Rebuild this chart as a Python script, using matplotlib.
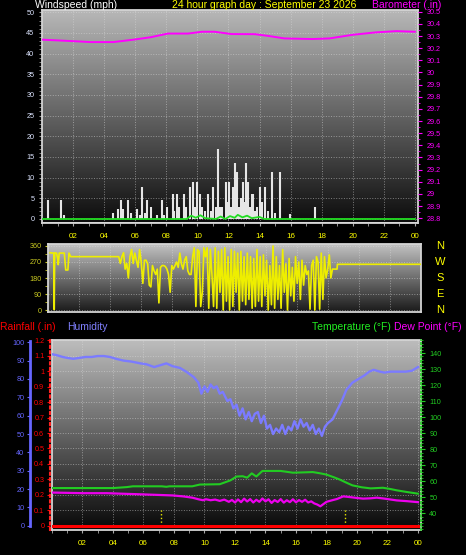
import matplotlib
matplotlib.use('Agg')
import matplotlib.pyplot as plt
import numpy as np
from matplotlib.colors import LinearSegmentedColormap
from matplotlib.ticker import MultipleLocator

plt.rcParams['font.family'] = ['Liberation Sans', 'DejaVu Sans']

W, H = 466, 555

# ---- data ----
hour_ticks = [2, 4, 6, 8, 10, 12, 14, 16, 18, 20, 22, 24]
hour_labels = ['02', '04', '06', '08', '10', '12', '14', '16', '18', '20', '22', '00']

wind_hours = [0.4, 1.2, 1.4, 4.55, 4.9, 5.1, 5.2, 5.55, 5.7, 6.1, 6.3, 6.45, 6.6, 6.75, 7.0, 7.4,
              7.7, 7.85, 8.05, 8.4, 8.5, 8.7, 8.8, 9.15, 9.3, 9.5, 9.7, 9.85, 10.0, 10.15, 10.3,
              10.5, 10.7, 10.9, 11.0, 11.2, 11.3, 11.45, 11.6, 11.85, 12.0, 12.05, 12.15, 12.3,
              12.4, 12.55, 12.7, 12.8, 12.95, 13.05, 13.1, 13.25, 13.4, 13.5, 13.6, 13.7, 13.85,
              14.0, 14.15, 14.35, 14.55, 14.8, 15.0, 15.3, 15.95, 17.55]
wind_speed = [4.5, 4.5, 1.0, 1.5, 2.5, 4.5, 2.5, 4.5, 1.5, 2.5, 1.0, 7.8, 1.5, 4.5, 2.8, 1.0,
              4.5, 1.0, 2.8, 6.0, 2.0, 6.0, 2.8, 6.0, 2.8, 7.8, 9.0, 3.0, 9.0, 6.0, 3.0,
              2.0, 6.0, 2.0, 7.8, 3.0, 17.0, 3.0, 2.8, 9.0, 4.0, 9.0, 3.0, 7.8,
              13.6, 11.4, 3.0, 5.0, 9.0, 4.0, 13.6, 9.0, 3.0, 6.0, 6.0, 2.0, 3.0,
              7.8, 4.0, 7.8, 2.0, 11.4, 1.5, 11.4, 1.3, 2.8]

avg_hours = [0, 9.3, 9.6, 9.9, 10.2, 10.5, 11.2, 11.5, 11.8, 12.1, 12.4, 12.6, 12.9, 13.2, 13.5, 14.0, 14.3, 24]
avg_speed = [0, 0, 0.8, 0.3, 0.9, 0.2, 0, 0.6, 0, 0.7, 0.3, 1.0, 0.4, 0.8, 0.2, 0.5, 0, 0]

baro_hours = [0, 0.8, 1.6, 2.4, 3.1, 4.6, 5.9, 7.0, 8.1, 9.4, 10.3, 11.1, 12.2, 13.7, 14.6,
              15.6, 17.4, 18.5, 20.0, 21.5, 22.8, 24.0]
baro = [30.27, 30.265, 30.26, 30.255, 30.25, 30.25, 30.27, 30.29, 30.32, 30.32, 30.335, 30.335,
        30.316, 30.315, 30.30, 30.28, 30.275, 30.28, 30.31, 30.33, 30.34, 30.335]

dir_start_hours = [0.13, 0.3, 0.38, 0.4, 0.43, 0.55, 0.62, 0.66, 0.72, 0.9, 1.05, 1.14, 1.28, 1.35, 1.46, 4.5]
dir_start = [322, 320, 320, 3, 320, 320, 290, 255, 320, 320, 320, 225, 225, 320, 300, 300]
dir_noisy = [300, 262, 300, 322, 230, 262, 180, 300, 340, 262, 320, 280, 240,
             340, 270, 150, 280, 280, 260, 140, 130, 250, 220,
             200, 230, 40, 240, 250, 250, 245, 230, 200, 100, 250, 230,
             250, 270, 240, 320, 260, 230, 280, 300, 220, 200,
             200, 300, 350, 20, 340, 330, 20, 100, 350, 300,
             350, 10, 340, 200, 20, 350, 10, 330, 100, 340,
             0, 350, 50, 300, 0, 340, 20, 330, 100, 320,
             0, 330, 50, 300, 30, 320, 60, 300, 10, 290,
             20, 340, 50, 300, 20, 310, 80, 280, 0, 250,
             30, 360, 10, 300, 60, 250, 10, 340, 100, 260,
             0, 290, 80, 240, 50, 300, 150, 270, 60, 280,
             140, 250, 200, 220, 5, 250, 280, 0, 300, 270,
             5, 320, 60, 300, 180, 230, 310]
dir_end_hours = [18.2, 18.3, 18.45, 18.6, 18.62, 24.0]
dir_end = [180, 230, 230, 230, 257, 257]

hum_hours = [0.0, 0.3, 0.7, 1.0, 1.4, 1.8, 2.2, 2.6, 3.0, 3.4, 3.8, 4.2, 4.7, 5.2, 5.8, 6.2, 6.7,
             7.1, 7.5, 7.9, 8.4, 8.8, 9.3, 9.6, 9.8, 10.0, 10.2, 10.4, 10.6, 10.8, 11.0, 11.2,
             11.5, 11.7, 11.9, 12.1, 12.3, 12.5, 12.7, 12.9, 13.1, 13.3, 13.5, 13.7, 13.9, 14.1,
             14.3, 14.5, 14.7, 14.9, 15.1, 15.3, 15.5, 15.7, 15.9, 16.1, 16.3, 16.5, 16.7, 16.9,
             17.1, 17.3, 17.5, 17.7, 17.9, 18.1, 18.4, 18.7, 19.0, 19.3, 19.7, 20.1, 20.5, 20.8,
             21.1, 21.5, 21.8, 22.2, 22.7, 23.2, 23.6, 24.0]
humidity = [93.5, 93, 92, 91.5, 91, 91.5, 92, 92, 92.5, 92.5, 92, 91, 90, 89.5, 88.5, 88, 86.5,
            87.5, 88.5, 87, 86, 84, 81, 78, 72, 76, 73, 77, 75, 76, 72, 73,
            68, 69, 64, 66, 60, 64, 58, 62, 57, 61, 62, 56, 60, 53,
            55, 50, 53, 51, 55, 50, 54, 52, 57, 53, 58, 54, 56, 52,
            55, 50, 53, 49, 54, 56, 58, 63, 68, 74, 78, 80, 82, 84,
            85, 84, 83.5, 84, 84, 84, 84.5, 86.5]

temp_hours = [0, 2, 4, 4.9, 5.3, 7.2, 7.5, 7.7, 9.2, 9.7, 11.0, 11.7, 12.1, 12.5, 12.8, 13.1,
              13.4, 13.8, 14.5, 15.0, 15.8, 16.5, 17.1, 17.6, 18.0, 18.5, 18.9, 19.3, 19.7,
              20.3, 20.9, 21.7, 22.2, 22.6, 23.3, 24.0]
temperature = [55.8, 55.8, 55.8, 56.4, 56.9, 56.9, 56.6, 56.9, 56.9, 58, 58.2, 60.6, 63, 63.2,
               62.3, 65, 63, 66.5, 66.5, 66.5, 65.4, 65.6, 65.8, 65, 64.2, 62.5, 61, 59.2, 57.5,
               56.3, 55.6, 56, 55.2, 54.4, 53.3, 52.3]

dew_hours = [0, 1, 2, 3.6, 4.5, 5.8, 7, 7.9, 8.6, 9.2, 9.6, 9.9, 10.1, 10.4, 10.7, 11.0, 11.3,
             11.6, 11.8, 12.0, 12.2, 12.4, 12.6, 12.8, 13.0, 13.2, 13.4, 13.6, 13.8, 14.0, 14.2,
             14.4, 14.6, 14.8, 15.0, 15.2, 15.4, 15.6, 15.8, 16.0, 16.2, 16.4, 16.6, 16.8, 17.0,
             17.2, 17.4, 17.6, 17.8, 18.0, 18.3, 18.7, 19.1, 19.5, 20.0, 20.4, 20.9, 21.3, 21.8,
             22.6, 23.3, 24.0]
dew_point = [53, 52.8, 52.6, 52.6, 52.3, 51.9, 51.5, 51.2, 50.6, 49.8, 48.8, 48.2, 48.8, 48.2,
             48.6, 47.8, 48.6, 47.2, 48.4, 46.8, 48.7, 47.0, 49.2, 47.4, 48.9, 46.8, 48.5, 47.2,
             49.3, 47.5, 48.8, 46.5, 48.3, 47.1, 48.9, 46.7, 48.2, 47.0, 48.8, 46.9, 48.3, 47.2,
             48.5, 46.8, 47.5, 46.2, 45.5, 44.4, 45.8, 47.2, 48.0, 49.0, 50.6, 50.2, 49.6, 49.2,
             49.4, 49.8, 49.2, 48.1, 47.6, 47.0]

rain_hours = [0, 24]
rainfall = [0, 0]

sun_events = [7.18, 19.24]

# ---- helpers ----
def box(left, top, right, bottom):
    return [left / W, 1 - bottom / H, (right - left) / W, (bottom - top) / H]


def shade(ax, top, bottom):
    cmap = LinearSegmentedColormap.from_list('g', [bottom, top])
    ax.imshow(np.linspace(0, 1, 256).reshape(-1, 1), extent=[0, 1, 0, 1], origin='lower',
              transform=ax.transAxes, aspect='auto', cmap=cmap, zorder=0)


def frame(ax):
    for s in ax.spines.values():
        s.set_color('#d4d4d4')
        s.set_linewidth(1.3)


fig = plt.figure(figsize=(W / 100, H / 100), dpi=100, facecolor='black')
grid_kw = dict(color='#dddddd', linestyle=':', linewidth=0.7, alpha=0.5)
tick_fs = 5.2

# ---- top panel: wind speed + barometer ----
ax1 = fig.add_axes(box(42, 10, 418, 222.5))
shade(ax1, '#b8b8b8', '#0d0d0d')
ax1.vlines(wind_hours, 0, wind_speed, color='#e6e6e6', linewidth=1.5, zorder=3)
ax1.plot(avg_hours, avg_speed, color='#22dd22', linewidth=1.3, zorder=4)
ax1.set_xlim(0, 24.2)
ax1.set_ylim(-0.85, 50.55)
ax1.set_xticks(hour_ticks)
ax1.set_xticklabels(hour_labels)
ax1.xaxis.set_minor_locator(MultipleLocator(1))
ax1.set_yticks(range(0, 51, 5))
ax1.yaxis.set_minor_locator(MultipleLocator(1))
ax1.tick_params(axis='x', which='both', colors='#aaaaaa', labelcolor='#ffff00', labelsize=5.8,
                length=2.5, pad=5)
ax1.tick_params(axis='y', which='both', colors='#999999', labelcolor='#dce4ff', labelsize=tick_fs,
                length=2.5, pad=3)
ax1.grid(True, **grid_kw)
frame(ax1)

ax1b = ax1.twinx()
ax1b.plot(baro_hours, baro, color='#ff00ff', linewidth=1.4)
ax1b.set_ylim(28.765, 30.514)
ax1b.set_yticks(np.arange(28.8, 30.51, 0.1))
ax1b.set_yticklabels([f'{v:g}' for v in np.round(np.arange(28.8, 30.51, 0.1), 1)])
ax1b.yaxis.set_minor_locator(MultipleLocator(0.05))
ax1b.tick_params(axis='y', which='both', colors='#ff00ff', labelsize=tick_fs, length=3, pad=3)
ax1b.tick_params(axis='y', which='minor', length=1.5)
for s in ax1b.spines.values():
    s.set_visible(False)

fig.text(35 / W, 1 - 8.5 / H, 'Windspeed (mph)', color='white', fontsize=7.5, va='baseline')
fig.text(172 / W, 1 - 8.5 / H, '24 hour graph day : September 23 2026', color='#ffff00',
         fontsize=7.5, va='baseline')
fig.text(372 / W, 1 - 8.5 / H, 'Barometer (.in)', color='#ff00ff', fontsize=7.5, va='baseline')

# ---- middle panel: wind direction ----
ax2 = fig.add_axes(box(48, 244, 421, 312))
shade(ax2, '#c2c2c2', '#1a1a1a')
dir_hours = dir_start_hours + list(np.linspace(4.55, 18.1, len(dir_noisy))) + dir_end_hours
direction = dir_start + dir_noisy + dir_end
ax2.plot(dir_hours, direction, color='#eeee00', linewidth=1.2, zorder=3)
ax2.set_xlim(0, 24)
ax2.set_ylim(-11, 371)
ax2.set_xticks(hour_ticks)
ax2.tick_params(axis='x', length=0, labelbottom=False)
ax2.set_yticks([0, 90, 180, 270, 360])
ax2.yaxis.set_minor_locator(MultipleLocator(45))
ax2.tick_params(axis='y', which='both', colors='#cccc22', labelsize=tick_fs, length=2.5, pad=2)
ax2.grid(True, **grid_kw)
frame(ax2)
for d, letter in zip([360, 270, 180, 90, 0], ['N', 'W', 'S', 'E', 'N']):
    ax2.text(1.051, d, letter, transform=ax2.get_yaxis_transform(), color='#ffff00',
             fontsize=8, ha='center', va='center')

# ---- bottom panel: rain, humidity, temperature, dew point ----
axb = fig.add_axes(box(52, 340, 421, 530))
shade(axb, '#bdbdbd', '#080808')
axb.set_xlim(0, 24.2)
axb.set_ylim(-0.028, 1.2025)
axb.set_yticks(np.arange(0, 1.21, 0.1))
axb.tick_params(axis='y', left=False, labelleft=False)
axb.set_xticks(hour_ticks)
axb.set_xticklabels(hour_labels)
axb.xaxis.set_minor_locator(MultipleLocator(1))
axb.tick_params(axis='x', which='both', colors='#aaaaaa', labelcolor='#ffff00', labelsize=5.8,
                length=2.5, pad=5)
axb.grid(True, **grid_kw)
frame(axb)
axb.vlines(sun_events, 0, 0.1, color='#e8e800', linestyle=':', linewidth=1.0, zorder=2)

axh = axb.twinx()
axh.plot(hum_hours, humidity, color='#7b7bff', linewidth=1.7)
axh.set_ylim(-2.3, 101.25)
axh.yaxis.tick_left()
axh.spines['left'].set_visible(True)
axh.spines['left'].set_position(('axes', -0.06))
axh.spines['left'].set_color('#6666ff')
axh.spines['left'].set_linewidth(2)
axh.spines['left'].set_bounds(0, 100.5)
for k in ['right', 'top', 'bottom']:
    axh.spines[k].set_visible(False)
axh.set_yticks(range(0, 101, 10))
axh.tick_params(axis='y', colors='#6666ff', labelsize=tick_fs, length=2.5, pad=1.5)

axt = axb.twinx()
axt.plot(temp_hours, temperature, color='#22cc22', linewidth=1.5)
axt.plot(dew_hours, dew_point, color='#ee00ee', linewidth=1.6)
axt.set_ylim(29.6, 148.3)
axt.set_yticks(range(40, 141, 10))
axt.yaxis.set_minor_locator(MultipleLocator(2))
axt.tick_params(axis='y', which='both', colors='#22cc22', labelsize=tick_fs, length=3, pad=3)
axt.tick_params(axis='y', which='minor', length=1.2)
for k in ['left', 'top', 'bottom']:
    axt.spines[k].set_visible(False)
axt.spines['right'].set_color('#22cc22')
axt.spines['right'].set_linestyle(':')
axt.spines['right'].set_linewidth(1.2)

axr = axb.twinx()
axr.plot(rain_hours, rainfall, color='#ff0000', linewidth=2.2, zorder=5)
axr.set_ylim(-0.028, 1.2025)
axr.yaxis.tick_left()
axr.spines['left'].set_visible(True)
axr.spines['left'].set_position(('outward', 1.5))
axr.spines['left'].set_color('#ff2020')
axr.spines['left'].set_linestyle(':')
axr.spines['left'].set_linewidth(1.5)
for k in ['right', 'top', 'bottom']:
    axr.spines[k].set_visible(False)
axr.set_yticks(np.arange(0, 1.21, 0.1))
axr.set_yticklabels([f'{v:g}' for v in np.round(np.arange(0, 1.21, 0.1), 1)])
axr.tick_params(axis='y', colors='#ff0000', labelsize=tick_fs, length=2.5, pad=1.5)

fig.text(0 / W, 1 - 327 / H, 'Rainfall (.in)', color='#ff0000', fontsize=7.5, va='center')
fig.text(67 / W, 1 - 327 / H, 'Humidity', color='#8080ff', fontsize=7.5, va='center')
fig.text(312 / W, 1 - 327 / H, 'Temperature (°F)', color='#22ee22', fontsize=7.5, va='center')
fig.text(394 / W, 1 - 327 / H, 'Dew Point (°F)', color='#ff00ff', fontsize=7.5, va='center')

fig.savefig('out.png', dpi=100, facecolor='black')
